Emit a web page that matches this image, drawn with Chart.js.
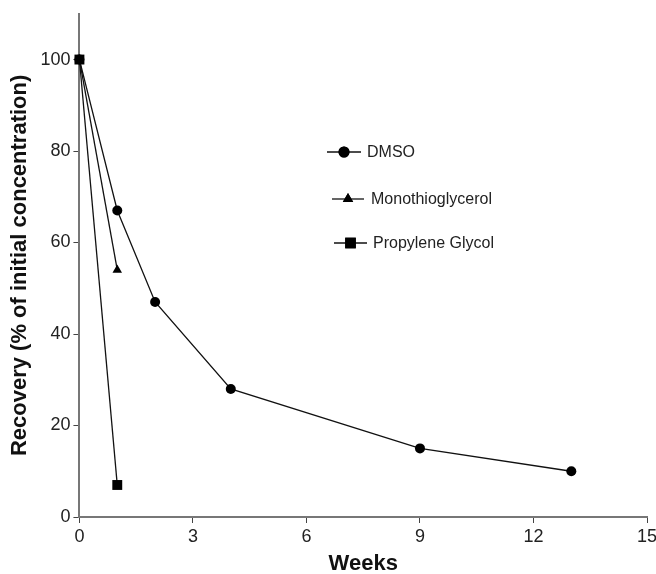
<!DOCTYPE html>
<html>
<head>
<meta charset="utf-8">
<script src="https://cdn.jsdelivr.net/npm/chart.js@4"></script>
<style>
  body { margin: 0; background: #fff; }
  #wrap { width: 656px; height: 574px; }
</style>
</head>
<body>
<div id="wrap"><canvas id="chart" width="656" height="574"></canvas></div>
<script>
// data
const seriesNames = ['DMSO', 'Monothioglycerol', 'Propylene Glycol'];
const dmsoWeeks = [0, 1, 2, 4, 9, 13];
const dmsoRecovery = [100, 67, 47, 28, 15, 10];
const mtgWeeks = [0, 1];
const mtgRecovery = [100, 54];
const pgWeeks = [0, 1];
const pgRecovery = [100, 7];
const xTicks = [0, 3, 6, 9, 12, 15];
const yTicks = [0, 20, 40, 60, 80, 100];

const FONT = '"Liberation Sans", Arial, sans-serif';
const toPoints = (xs, ys) => xs.map((x, i) => ({ x: x, y: ys[i] }));

function makeSet(label, pts, shape, r, order) {
  return {
    label: label,
    data: pts,
    order: order,
    borderColor: '#111',
    backgroundColor: '#000',
    borderWidth: 1.3,
    pointStyle: shape,
    pointRadius: r,
    pointBorderWidth: 0,
    pointBackgroundColor: '#000',
    tension: 0
  };
}

// legend sits inside the plot, each row slightly shifted like the original
const legendSpots = [
  { x1: 327, x2: 361, y: 152, tx: 367 },
  { x1: 332, x2: 364, y: 199, tx: 371 },
  { x1: 334, x2: 367, y: 243, tx: 373 }
];

const insideLegend = {
  id: 'insideLegend',
  afterDatasetsDraw(chart) {
    const ctx = chart.ctx;
    ctx.save();
    chart.data.datasets.forEach((ds, i) => {
      const s = legendSpots[i];
      ctx.strokeStyle = '#111';
      ctx.lineWidth = 1.3;
      ctx.beginPath();
      ctx.moveTo(s.x1, s.y);
      ctx.lineTo(s.x2, s.y);
      ctx.stroke();
      ctx.fillStyle = '#000';
      Chart.helpers.drawPoint(ctx, { pointStyle: ds.pointStyle, radius: ds.pointRadius + 0.5, rotation: 0, borderWidth: 0 }, (s.x1 + s.x2) / 2, s.y);
      ctx.fill();
      ctx.fillStyle = '#222';
      ctx.font = '16px ' + FONT;
      ctx.textBaseline = 'middle';
      ctx.fillText(ds.label, s.tx, s.y + 1);
    });
    ctx.restore();
  }
};

new Chart(document.getElementById('chart'), {
  type: 'line',
  data: {
    datasets: [
      makeSet(seriesNames[0], toPoints(dmsoWeeks, dmsoRecovery), 'circle', 5, 3),
      makeSet(seriesNames[1], toPoints(mtgWeeks, mtgRecovery), 'triangle', 5.5, 2),
      makeSet(seriesNames[2], toPoints(pgWeeks, pgRecovery), 'rect', 7, 1)
    ]
  },
  options: {
    responsive: false,
    animation: false,
    clip: false,
    layout: { padding: { left: 7, right: 9, top: 12, bottom: -3 } },
    plugins: {
      legend: { display: false },
      tooltip: { enabled: false }
    },
    scales: {
      x: {
        type: 'linear',
        min: 0,
        max: 15,
        afterBuildTicks: axis => { axis.ticks = xTicks.map(v => ({ value: v })); },
        // original lets the last label run to the edge
        afterFit: axis => { axis.paddingRight = 0; },
        grid: { display: true, drawOnChartArea: false, tickLength: 6, color: '#444' },
        border: { color: '#777', width: 2 },
        ticks: { color: '#222', font: { family: FONT, size: 18 }, padding: 3, maxRotation: 0 },
        title: { display: true, text: 'Weeks', color: '#111', font: { family: FONT, size: 22, weight: 'bold' }, padding: { top: 0, bottom: 0 } }
      },
      y: {
        min: 0,
        max: 110,
        afterBuildTicks: axis => { axis.ticks = yTicks.map(v => ({ value: v })); },
        grid: { display: true, drawOnChartArea: false, tickLength: 6, color: '#444' },
        border: { color: '#777', width: 2 },
        ticks: { color: '#222', font: { family: FONT, size: 18 }, padding: 3 },
        title: { display: true, text: 'Recovery (% of initial concentration)', color: '#111', font: { family: FONT, size: 22, weight: 'bold' }, padding: { top: 0, bottom: 4 } }
      }
    }
  },
  plugins: [insideLegend]
});
</script>
</body>
</html>
